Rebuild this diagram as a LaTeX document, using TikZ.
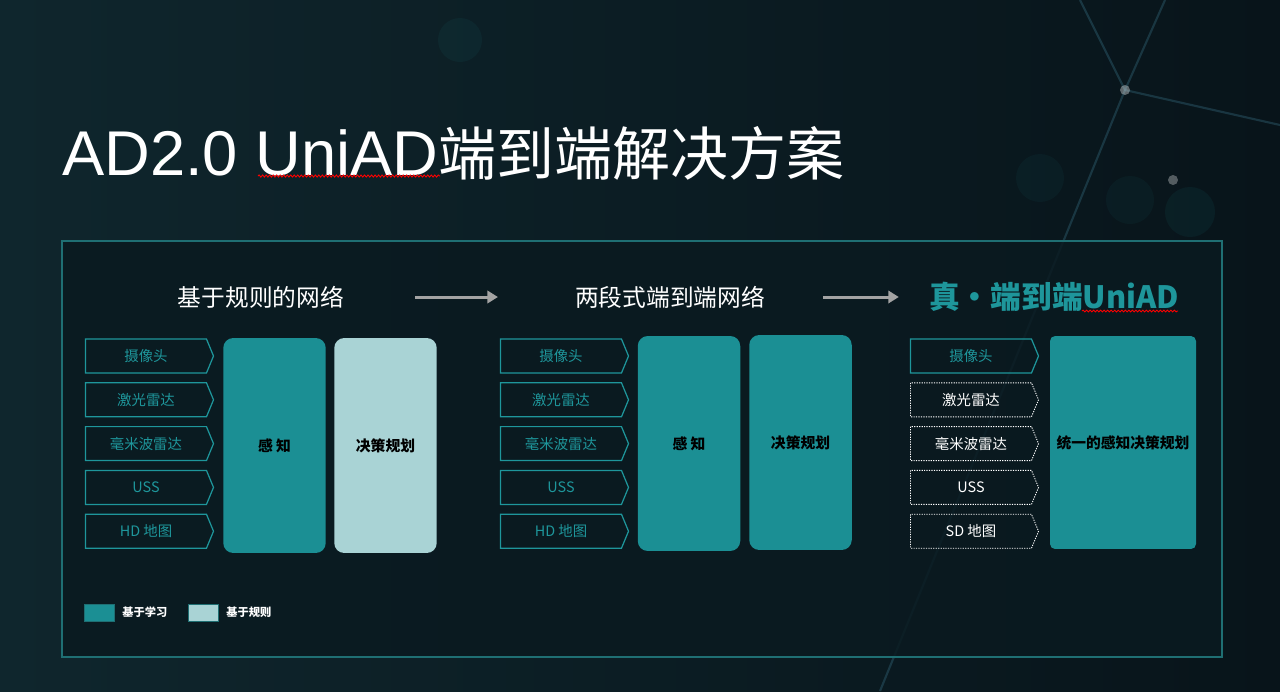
\documentclass[tikz,border=0pt]{standalone}
\usepackage{fontspec}
\setmainfont{Noto Sans CJK SC}
\newfontfamily\latinfont{Liberation Sans}
\usepackage{xcolor}
\usetikzlibrary{shapes.symbols, arrows.meta, positioning, decorations.pathmorphing}

\definecolor{bgdark}{HTML}{08141A}
\definecolor{bglight}{HTML}{0F262D}
\definecolor{panelbg}{HTML}{0A1A20}
\definecolor{panelline}{HTML}{1F6F73}
\definecolor{tealfill}{HTML}{1B8F94}
\definecolor{lightfill}{HTML}{A9D3D5}
\definecolor{tealline}{HTML}{1E969B}
\definecolor{arrowgray}{HTML}{A3A3A3}
\definecolor{raycol}{HTML}{2E5E70}
\definecolor{dotgreen}{HTML}{2FA35A}

\tikzset{
  sensor/.style={signal, signal to=east, signal pointer angle=135, draw=tealline, line width=0.7pt,
    text=tealline, font=\fontsize{8.2}{10}\selectfont, minimum width=2.56cm, minimum height=0.68cm, inner sep=0pt},
  sensordot/.style={sensor, draw=white!70, line width=0.5pt, dash pattern=on 0.7pt off 0.7pt, text=white!90},
  block/.style={rounded corners=0.2cm, minimum width=2.05cm, minimum height=4.3cm, inner sep=0pt,
    text=black, font=\bfseries\fontsize{8.4}{10}\selectfont},
  header/.style={text=white, font=\fontsize{13.5}{16}\selectfont},
  flow/.style={arrowgray, line width=1.7pt, -{Triangle[length=6pt, width=7pt]}},
  ray/.style={raycol, line width=1.2pt, opacity=0.45},
  legbox/.style={minimum width=0.6cm, minimum height=0.34cm, inner sep=0pt, draw=panelline, line width=0.4pt},
  legtext/.style={right=1pt of #1, text=white!85, font=\bfseries\fontsize{6.4}{7}\selectfont}
}

\begin{document}
\begin{tikzpicture}[x=0.02cm, y=-0.02cm]
  % Background
  \shade[left color=bglight, right color=bgdark] (0,0) rectangle (1280,691);
  \useasboundingbox (0,0) rectangle (1280,691);
  \draw[ray] (1080,0) -- (1125,90) -- (1280,125);
  \draw[ray] (1165,0) -- (1125,90) -- (880,691);
  \foreach \px/\py in {1091,18/1107,48/1117,73/1145,129/1173,180/1095,162} {
    \fill[dotgreen, opacity=0.6] (\px,\py) circle (3);
  }
  \fill[white, opacity=0.35] (1125,90) circle (5);
  \fill[white, opacity=0.3] (1173,180) circle (5);
  \fill[tealline, opacity=0.06] (1040,178) circle (24);
  \fill[tealline, opacity=0.06] (1130,200) circle (24);
  \fill[tealline, opacity=0.08] (1190,212) circle (25);
  \fill[tealline, opacity=0.07] (460,40) circle (22);

  % Title
  \node[anchor=base west, text=white, inner sep=0pt] (title) at (62,175)
    {{\latinfont\fontsize{36}{40}\selectfont AD2.0 UniAD}{\fontsize{33}{38}\selectfont 端到端解决方案}};
  \draw[red, line width=0.5pt, decorate, decoration={snake, amplitude=0.6pt, segment length=2pt}] (258,176) -- (440,176);

  % Panel
  \draw[panelline, fill=panelbg, fill opacity=0.85, line width=0.8pt] (62,241) rectangle (1222,657);

  % Headers
  \node[header] (h1) at (261,297) {基于规则的网络};
  \node[header] (h2) at (670,297) {两段式端到端网络};
  \node[text=tealline, font=\bfseries\fontsize{17.5}{20}\selectfont] (h3) at (1054,297) {真・端到端UniAD};
  \draw[red, line width=0.5pt, decorate, decoration={snake, amplitude=0.5pt, segment length=2pt}] (1082,311) -- (1178,311);

  \draw[flow, shorten <=1.30cm, shorten >=1.42cm] (h1.east) -- (h2.west);
  \draw[flow, shorten <=1.04cm, shorten >=0.48cm] (h2.east) -- (h3.west);

  % Inputs
  \foreach \lbl [count=\i] in {摄像头, 激光雷达, 毫米波雷达, USS, HD 地图} {
    \node[sensor] (ra\i) at (146, {356+(\i-1)*43.8}) {\lbl};
    \node[sensor] (tb\i) at (561, {356+(\i-1)*43.8}) {\lbl};
  }
  \node[sensor] (ua1) at (971,356) {摄像头};
  \foreach \lbl [count=\i from 2] in {激光雷达, 毫米波雷达, USS, SD 地图}
    \node[sensordot] (ua\i) at (971, {356+(\i-1)*43.8}) {\lbl};

  % Modules
  \node[block, fill=tealfill] (raper) at (274.5,445.5) {感 知};
  \node[block, fill=lightfill] (radec) at (385.5,445.5) {决策规划};
  \node[block, fill=tealfill] (tbper) at (689,443.5) {感 知};
  \node[block, fill=tealfill] (tbdec) at (800.5,442.5) {决策规划};
  \node[block, fill=tealfill, rounded corners=0.1cm, minimum width=2.92cm, minimum height=4.26cm] (uni) at (1123,442.5) {统一的感知决策规划};

  % Legend
  \node[legbox, fill=tealfill] (leglearn) at (99,612.5) {};
  \node[legtext=leglearn] {基于学习};
  \node[legbox, fill=lightfill] (legrule) at (203,612.5) {};
  \node[legtext=legrule] {基于规则};
\end{tikzpicture}
\end{document}
